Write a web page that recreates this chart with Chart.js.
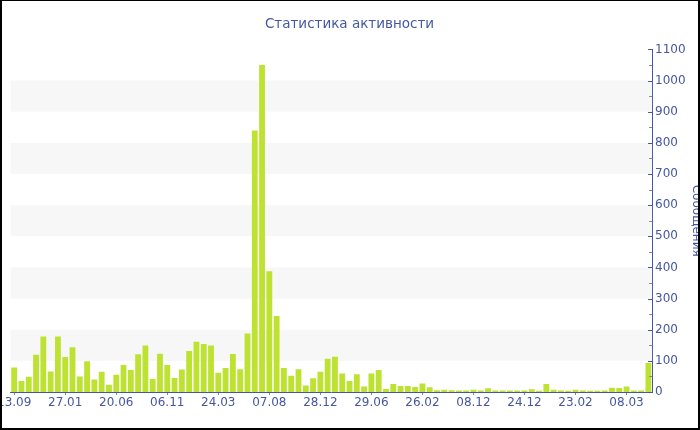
<!DOCTYPE html>
<html>
<head>
<meta charset="utf-8">
<script src="https://cdn.jsdelivr.net/npm/chart.js@4/dist/chart.umd.min.js"></script>
<style>
  html, body { margin: 0; padding: 0; background: #fff; }
  #wrap {
    position: relative;
    width: 700px;
    height: 430px;
    box-sizing: border-box;
    border: 2px solid #000;
    border-top-width: 1px;
    overflow: hidden;
  }
  #chart { position: absolute; left: -6px; top: -1px; }
</style>
</head>
<body>
<div id="wrap"><canvas id="chart" width="707" height="430"></canvas></div>
<script>
// Visible date labels, one every 7 bars
const tickLabels = ['13.09', '27.01', '20.06', '06.11', '24.03', '07.08', '28.12',
  '29.06', '26.02', '08.12', '24.12', '23.02', '08.03'];
const labelStep = 7;

// Messages per period
const messages = [
  79, 35, 49, 120, 178, 66, 178, 112, 144, 50, 99, 40, 65, 23, 55, 87, 71, 121, 149, 42,
  123, 87, 45, 72, 132, 161, 154, 149, 62, 77, 122, 73, 188, 840, 1050, 388, 244, 77, 52, 73,
  21, 44, 65, 107, 113, 59, 35, 57, 18, 59, 71, 10, 26, 19, 19, 16, 27, 15, 6, 7,
  6, 5, 5, 7, 5, 12, 5, 5, 5, 5, 5, 9, 4, 26, 7, 5, 4, 7, 5, 4,
  4, 5, 14, 13, 18, 5, 5, 93
];

const yMax = 1100;
const bandStep = 100;
const minorStep = 50;

const categories = messages.map((_, i) => i);

const BLUE = '#45579f';
const FONT = 'DejaVu Sans';
const PLOT_LEFT = 8.7; // plot start inside the frame (after its 2px border)

// Alternating background bands and inner tick marks on the right axis
const bandsPlugin = {
  id: 'bands',
  beforeDatasetsDraw(chart) {
    const { ctx, chartArea, scales } = chart;
    const y = scales.y;
    ctx.save();
    ctx.fillStyle = '#f7f7f7';
    for (let v = bandStep; v < yMax; v += bandStep * 2) {
      const top = y.getPixelForValue(v + bandStep);
      const bottom = y.getPixelForValue(v);
      ctx.fillRect(chartArea.left, top, chartArea.right - chartArea.left, bottom - top);
    }
    ctx.restore();
  },
  afterDraw(chart) {
    const { ctx, chartArea, scales } = chart;
    const y = scales.y;
    ctx.save();
    ctx.lineWidth = 1;
    for (let v = 0; v <= yMax; v += minorStep) {
      const py = Math.round(y.getPixelForValue(v)) + 0.5;
      const major = v % bandStep === 0;
      ctx.strokeStyle = major ? BLUE : '#8a8a8a';
      ctx.beginPath();
      ctx.moveTo(chartArea.right - (major ? 4 : 3), py);
      ctx.lineTo(chartArea.right, py);
      ctx.stroke();
    }
    ctx.restore();
  }
};

const canvas = document.getElementById('chart');
const chart = new Chart(canvas, {
  type: 'bar',
  data: {
    labels: categories,
    datasets: [{
      label: 'Сообщения',
      data: messages,
      backgroundColor: '#bde232',
      borderWidth: 0,
      barPercentage: 0.8,
      categoryPercentage: 1
    }]
  },
  options: {
    responsive: false,
    animation: false,
    layout: { padding: { left: 0, right: 0, top: 0, bottom: 18.6 } },
    plugins: {
      legend: { display: false },
      tooltip: { enabled: false },
      title: {
        display: true,
        text: 'Статистика активности',
        color: BLUE,
        font: { family: FONT, size: 13.5, weight: 'normal' },
        padding: { top: 16.6, bottom: 16.6 }
      }
    },
    scales: {
      x: {
        offset: true,
        border: { display: true, color: BLUE, width: 1 },
        grid: {
          offset: false,
          drawOnChartArea: false,
          drawTicks: true,
          tickLength: 3,
          color: (c) => (c.index % labelStep === 0 ? '#7a86b8' : 'transparent')
        },
        ticks: {
          autoSkip: false,
          maxRotation: 0,
          minRotation: 0,
          padding: 1,
          color: BLUE,
          font: { family: FONT, size: 12 },
          callback: (value, index) => (index % labelStep === 0 ? tickLabels[index / labelStep] : '')
        }
      },
      y: {
        position: 'right',
        min: 0,
        max: yMax,
        border: { display: true, color: BLUE, width: 1 },
        grid: { display: false, drawTicks: false },
        ticks: {
          stepSize: bandStep,
          padding: 3,
          color: BLUE,
          font: { family: FONT, size: 12 },
          callback: (value) => String(value)
        },
        title: {
          display: true,
          text: 'Сообщения',
          color: BLUE,
          font: { family: FONT, size: 12 },
          padding: { top: 0, bottom: 0 }
        }
      }
    }
  },
  plugins: [bandsPlugin]
});

// shift the canvas so the plot starts where it does in the frame
canvas.style.left = (PLOT_LEFT - chart.chartArea.left) + 'px';
</script>
</body>
</html>
